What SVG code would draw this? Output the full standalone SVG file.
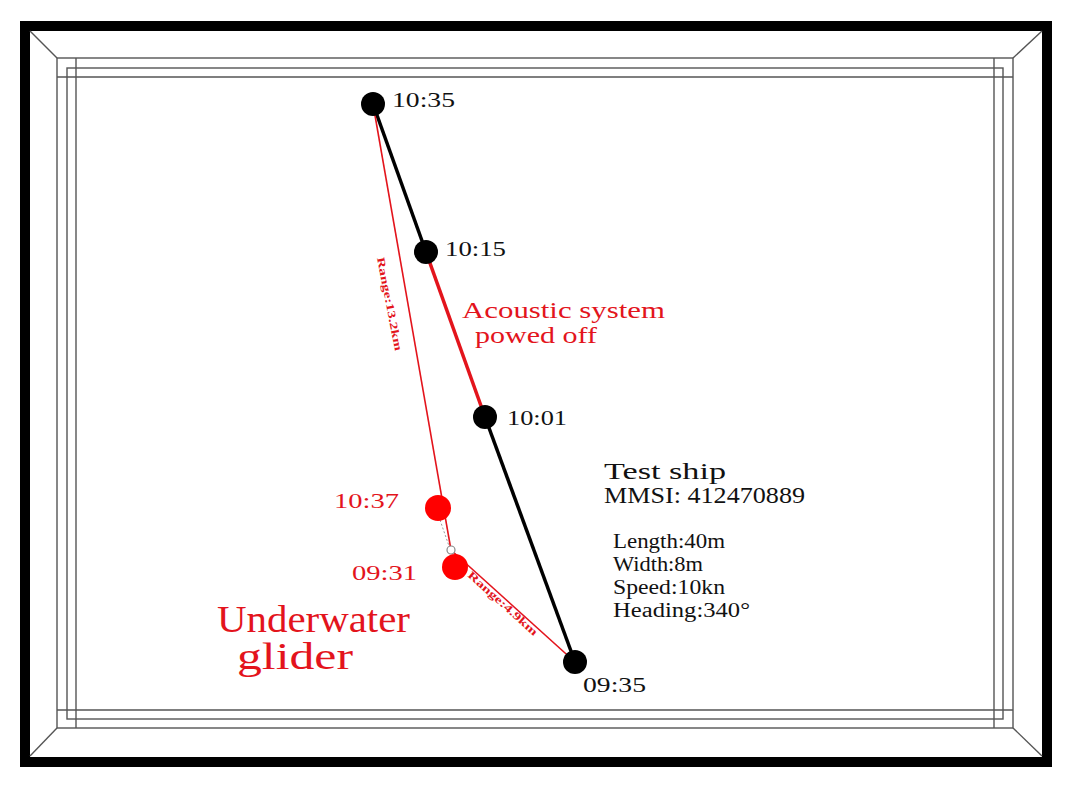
<svg xmlns="http://www.w3.org/2000/svg" width="1072" height="785" viewBox="0 0 1072 785">
<style>
.fr{fill:none;stroke:#555;stroke-width:1.4}
.t{font-family:"Liberation Serif","DejaVu Serif",serif}
.blk{fill:#111}
.red{fill:#e3141c}
.lbl{font-size:22px}
.rng{font-size:11px;font-weight:bold;fill:#e3141c}
</style>
<rect x="0" y="0" width="1072" height="785" fill="#fff"/>
<g id="frame">
<rect x="25" y="26" width="1022" height="736" fill="none" stroke="#000" stroke-width="10"/>
<rect class="fr" x="57" y="58" width="956" height="670"/>
<rect class="fr" x="67" y="68" width="936" height="651"/>
<line class="fr" x1="76" y1="58" x2="76" y2="728"/>
<line class="fr" x1="994" y1="58" x2="994" y2="728"/>
<line class="fr" x1="57" y1="77" x2="1013" y2="77"/>
<line class="fr" x1="57" y1="710" x2="1013" y2="710"/>
<line class="fr" x1="30" y1="31" x2="57" y2="58"/>
<line class="fr" x1="1042" y1="31" x2="1013" y2="58"/>
<line class="fr" x1="30" y1="756" x2="57" y2="728"/>
<line class="fr" x1="1042" y1="756" x2="1013" y2="728"/>
</g>
<g id="connectors">
<line x1="373" y1="104" x2="426" y2="252" stroke="#000" stroke-width="3.5"/>
<line x1="426" y1="252" x2="485" y2="417" stroke="#e3141c" stroke-width="3.5"/>
<line x1="485" y1="417" x2="575" y2="662" stroke="#000" stroke-width="3.5"/>
<line x1="373" y1="104" x2="451" y2="550" stroke="#e3141c" stroke-width="1.6"/>
<line x1="451" y1="550" x2="575" y2="662" stroke="#e3141c" stroke-width="1.6"/>
<line x1="440" y1="520" x2="449" y2="546" stroke="#999" stroke-width="1" stroke-dasharray="2,2"/>
<circle cx="451" cy="550" r="4" fill="#fff" stroke="#888" stroke-width="1.2"/>
<text class="t rng" transform="translate(377,258) rotate(79)" textLength="95" lengthAdjust="spacingAndGlyphs">Range:13.2km</text>
<text class="t rng" transform="translate(467,576) rotate(42)" textLength="90" lengthAdjust="spacingAndGlyphs">Range:4.9km</text>
</g>
<g id="node-1035">
<circle cx="373" cy="104" r="12" fill="#000"/>
<text class="t lbl blk" x="392" y="107" textLength="63" lengthAdjust="spacingAndGlyphs">10:35</text>
</g>
<g id="node-1015">
<circle cx="426" cy="252" r="12" fill="#000"/>
<text class="t lbl blk" x="445" y="256" textLength="61" lengthAdjust="spacingAndGlyphs">10:15</text>
</g>
<g id="node-1001">
<circle cx="485" cy="417" r="12" fill="#000"/>
<text class="t lbl blk" x="507" y="425" textLength="60" lengthAdjust="spacingAndGlyphs">10:01</text>
</g>
<g id="node-0935">
<circle cx="575" cy="662" r="12" fill="#000"/>
<text class="t lbl blk" x="583" y="692" textLength="63" lengthAdjust="spacingAndGlyphs">09:35</text>
</g>
<g id="node-1037">
<circle cx="438" cy="508" r="13" fill="#f00"/>
<text class="t lbl red" x="334" y="508" textLength="65" lengthAdjust="spacingAndGlyphs">10:37</text>
</g>
<g id="node-0931">
<circle cx="455" cy="567" r="13" fill="#f00"/>
<text class="t lbl red" x="352" y="580" textLength="65" lengthAdjust="spacingAndGlyphs">09:31</text>
</g>
<g id="acoustic-label">
<text class="t red" font-size="23" x="462" y="318" textLength="203" lengthAdjust="spacingAndGlyphs">Acoustic system</text>
<text class="t red" font-size="23" x="475" y="343" textLength="122" lengthAdjust="spacingAndGlyphs">powed off</text>
</g>
<g id="glider-label">
<text class="t red" font-size="37" x="217" y="632" textLength="193" lengthAdjust="spacingAndGlyphs">Underwater</text>
<text class="t red" font-size="37" x="237" y="669" textLength="116" lengthAdjust="spacingAndGlyphs">glider</text>
</g>
<g id="ship-info">
<text class="t blk" font-size="24" x="604" y="479" textLength="122" lengthAdjust="spacingAndGlyphs">Test ship</text>
<text class="t blk" font-size="24" x="604" y="503" textLength="201" lengthAdjust="spacingAndGlyphs">MMSI: 412470889</text>
<text class="t blk" font-size="20" x="613" y="548" textLength="112" lengthAdjust="spacingAndGlyphs">Length:40m</text>
<text class="t blk" font-size="20" x="613" y="571" textLength="90" lengthAdjust="spacingAndGlyphs">Width:8m</text>
<text class="t blk" font-size="20" x="613" y="594" textLength="112" lengthAdjust="spacingAndGlyphs">Speed:10kn</text>
<text class="t blk" font-size="20" x="613" y="617" textLength="137" lengthAdjust="spacingAndGlyphs">Heading:340°</text>
</g>
</svg>
